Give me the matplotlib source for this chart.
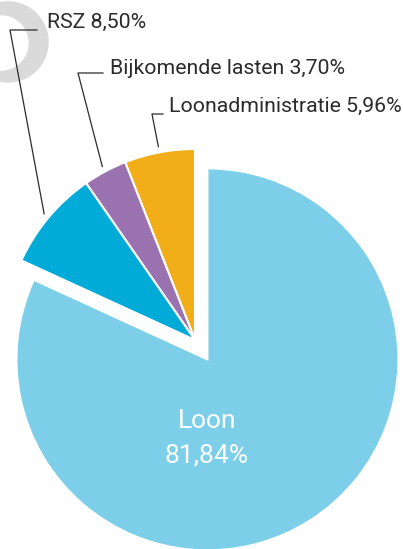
import numpy as np
import matplotlib.pyplot as plt
from matplotlib.patches import Circle

# data (counter-clockwise from 12 o'clock)
labels = ['Loonadministratie', 'Bijkomende lasten', 'RSZ', 'Loon']
values = [5.96, 3.70, 8.50, 81.84]
colors = ['#f1ae18', '#9a72b0', '#00acd7', '#7dcfe9']
explode = [0, 0, 0, 23]   # pixels

W, H = 403, 549
fig = plt.figure(figsize=(W / 100, H / 100), dpi=100)
ax = fig.add_axes([0, 0, 1, 1])

font = ['Roboto', 'DejaVu Sans']

# grey logo ring, cut off in the corner
ax.add_patch(Circle((8, H - 42), 40, color='#dadada', zorder=0))
ax.add_patch(Circle((1, H - 43), 27, color='white', zorder=0))

cx, cy, r = 195, H - 340, 191
wedges, _ = ax.pie(values, colors=colors, explode=explode, startangle=90,
                   counterclock=True, center=(cx, cy), radius=r, frame=True,
                   wedgeprops=dict(edgecolor='white', linewidth=1.5))
ax.set_xlim(0, W)
ax.set_ylim(0, H)
ax.set_aspect('equal')
ax.axis('off')

# leader labels: elbow point, end of horizontal, text start (pixels from top)
elbows = [(152, 114, 163, 169, 106), (78, 73, 103, 110, 68), (10, 30, 37, 47, 22)]
for i, (ex, ey, hx, tx, ty) in enumerate(elbows):
    w = wedges[i]
    ang = np.deg2rad((w.theta1 + w.theta2) / 2)
    px, py = cx + r * 1.03 * np.cos(ang), cy + r * 1.03 * np.sin(ang)
    ax.plot([px, ex, hx], [py, H - ey, H - ey], color='#2b2b2b', lw=0.9)
    txt = f"{labels[i]} {values[i]:.2f}%".replace('.', ',')
    ax.text(tx, H - ty, txt, ha='left', va='center', fontsize=15.3,
            color='#2b2b2b', family=font)

# label inside Loon
ax.text(207, H - 421, 'Loon', ha='center', va='center', fontsize=19,
        color='white', family=font)
ax.text(207, H - 455, f"{values[3]:.2f}%".replace('.', ','), ha='center',
        va='center', fontsize=19, color='white', family=font)

plt.savefig('out.png', dpi=100)
